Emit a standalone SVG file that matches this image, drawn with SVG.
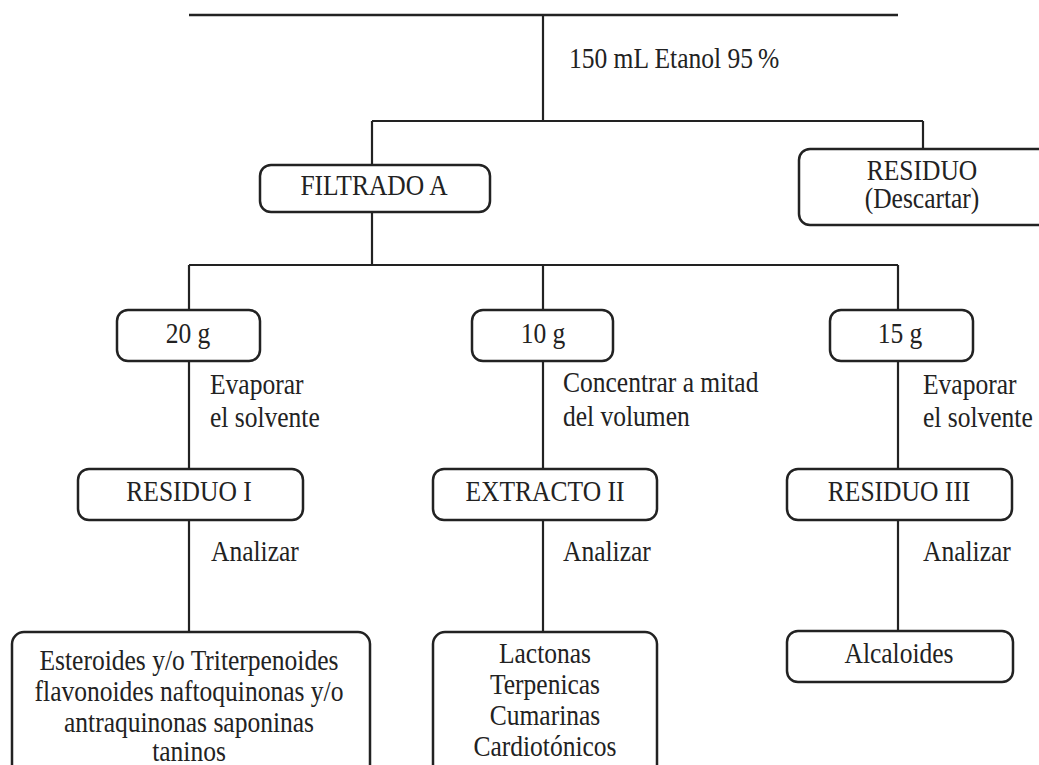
<svg xmlns="http://www.w3.org/2000/svg" width="1039" height="765" viewBox="0 0 1039 765">
<style>
  .box { fill: #ffffff; stroke: #222222; stroke-width: 2.5; }
  .ln { stroke: #222222; stroke-width: 2.2; fill: none; }
  text { font-family: "Liberation Serif", "Times New Roman", serif; font-size: 29px; fill: #222222;
         transform-box: fill-box; transform-origin: left center; transform: scaleX(0.88); }
  text.c { text-anchor: middle; transform-origin: center; }
</style>
<rect width="1039" height="765" fill="#ffffff"/>
<g id="connectors">
  <line class="ln" x1="189" y1="15" x2="898" y2="15" style="stroke-width:2.6"/>
  <line class="ln" x1="543" y1="15" x2="543" y2="121"/>
  <line class="ln" x1="372" y1="121" x2="923" y2="121"/>
  <line class="ln" x1="372" y1="121" x2="372" y2="165"/>
  <line class="ln" x1="923" y1="121" x2="923" y2="149"/>
  <line class="ln" x1="372" y1="212" x2="372" y2="265"/>
  <line class="ln" x1="189" y1="265" x2="898" y2="265"/>
  <line class="ln" x1="189" y1="265" x2="189" y2="310"/>
  <line class="ln" x1="543" y1="265" x2="543" y2="310"/>
  <line class="ln" x1="898" y1="265" x2="898" y2="310"/>
  <line class="ln" x1="189" y1="361" x2="189" y2="469"/>
  <line class="ln" x1="543" y1="361" x2="543" y2="469"/>
  <line class="ln" x1="898" y1="361" x2="898" y2="469"/>
  <line class="ln" x1="189" y1="520" x2="189" y2="632"/>
  <line class="ln" x1="543" y1="520" x2="543" y2="632"/>
  <line class="ln" x1="898" y1="520" x2="898" y2="631"/>
  <text x="569" y="68">150 mL Etanol 95&#8201;%</text>
  <text x="210" y="394">Evaporar</text>
  <text x="210" y="427">el solvente</text>
  <text x="563" y="392">Concentrar a mitad</text>
  <text x="563" y="426">del volumen</text>
  <text x="923" y="394">Evaporar</text>
  <text x="923" y="427">el solvente</text>
  <text x="211" y="561">Analizar</text>
  <text x="563" y="561">Analizar</text>
  <text x="923" y="561">Analizar</text>
</g>
<g id="filtrado-a">
  <rect class="box" x="260" y="165" width="230" height="47" rx="11"/>
  <text class="c" x="374" y="195">FILTRADO A</text>
</g>
<g id="residuo">
  <rect class="box" x="799" y="149" width="250" height="76" rx="11"/>
  <text class="c" x="922" y="180">RESIDUO</text>
  <text class="c" x="922" y="208">(Descartar)</text>
</g>
<g id="n20g">
  <rect class="box" x="117" y="310" width="143" height="51" rx="11"/>
  <text class="c" x="188" y="343">20 g</text>
</g>
<g id="n10g">
  <rect class="box" x="472" y="310" width="141" height="51" rx="11"/>
  <text class="c" x="543" y="343">10 g</text>
</g>
<g id="n15g">
  <rect class="box" x="830" y="310" width="143" height="51" rx="11"/>
  <text class="c" x="900" y="343">15 g</text>
</g>
<g id="residuo-i">
  <rect class="box" x="78" y="469" width="225" height="51" rx="11"/>
  <text class="c" x="189" y="501">RESIDUO I</text>
</g>
<g id="extracto-ii">
  <rect class="box" x="433" y="469" width="224" height="51" rx="11"/>
  <text class="c" x="545" y="501">EXTRACTO II</text>
</g>
<g id="residuo-iii">
  <rect class="box" x="787" y="469" width="225" height="51" rx="11"/>
  <text class="c" x="899" y="501">RESIDUO III</text>
</g>
<g id="grupo-i">
  <rect class="box" x="12" y="632" width="358" height="150" rx="12"/>
  <text class="c" x="189" y="670">Esteroides y/o Triterpenoides</text>
  <text class="c" x="189" y="701">flavonoides naftoquinonas y/o</text>
  <text class="c" x="189" y="732">antraquinonas saponinas</text>
  <text class="c" x="189" y="761">taninos</text>
</g>
<g id="grupo-ii">
  <rect class="box" x="433" y="632" width="224" height="150" rx="12"/>
  <text class="c" x="545" y="663">Lactonas</text>
  <text class="c" x="545" y="694">Terpenicas</text>
  <text class="c" x="545" y="725">Cumarinas</text>
  <text class="c" x="545" y="756">Cardiotónicos</text>
</g>
<g id="alcaloides">
  <rect class="box" x="787" y="631" width="226" height="51" rx="11"/>
  <text class="c" x="899" y="663">Alcaloides</text>
</g>
</svg>
